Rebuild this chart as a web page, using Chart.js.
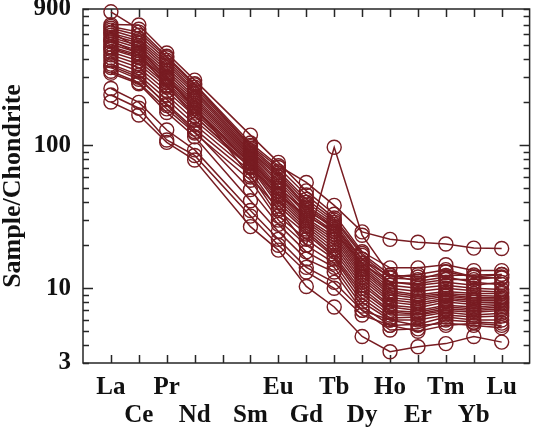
<!DOCTYPE html>
<html lang="en">
<head>
    <meta charset="UTF-8">
    <title>REE Chondrite-normalized Pattern</title>
    <script src="https://cdn.jsdelivr.net/npm/chart.js"></script>
    <style>
        html, body { margin: 0; padding: 0; background: #fff; }
        #wrap { width: 538px; height: 428px; }
    </style>
</head>
<body>
    <div id="wrap"><canvas id="reeChart" width="538" height="428"></canvas></div>
    <script>
        // element order on x axis (Pm has no data)
        const elements = ['La', 'Ce', 'Pr', 'Nd', 'Pm', 'Sm', 'Eu', 'Gd', 'Tb', 'Dy', 'Ho', 'Er', 'Tm', 'Yb', 'Lu'];
        // 0 = upper label row, 1 = lower label row, -1 = no label
        const labelRow = [0, 1, 0, 1, -1, 1, 0, 1, 0, 1, 0, 1, 0, 1, 0];

        const yTicks = [3, 4, 5, 6, 7, 8, 9, 10, 20, 30, 40, 50, 60, 70, 80, 90,
            100, 200, 300, 400, 500, 600, 700, 800, 900];
        const yLabelled = [3, 10, 100, 900];

        // sample/chondrite values: La Ce Pr Nd Pm Sm Eu Gd Tb Dy Ho Er Tm Yb Lu
        const samples = [
            [860, 650, 420, 270, null, 104, 72, 55, 38, 24.8, 22, 21, 20.4, 19.1, 19],
            [480, 420, 290, 190, null, 60, 36, 20, 97, 23.5, 12.4, 11.2, 12, 11, 10.6],
            [700, 695, 443, 286, null, 118, 76, 48, 33, 18, 13.9, 13.9, 14.6, 13.3, 13.3],
            [680, 620, 410, 265, null, 100, 70, 45, 31, 17.5, 12.4, 12, 12.3, 12.4, 12.5],
            [660, 590, 395, 255, null, 98, 66, 42, 30, 17, 11.8, 11.5, 13, 12, 11.8],
            [640, 560, 380, 245, null, 95, 64, 40, 29, 16, 11.1, 10.5, 11, 10.5, 11],
            [610, 540, 365, 238, null, 92, 62, 38, 28, 15, 10.5, 10, 10.5, 10, 9.8],
            [590, 520, 350, 230, null, 90, 60, 37, 27, 14.5, 10, 9.5, 10, 9.6, 9.4],
            [570, 500, 335, 220, null, 88, 57, 36, 26, 14, 9.6, 9, 9.5, 9.2, 9.2],
            [550, 480, 320, 212, null, 86, 55, 34, 25, 13.5, 9.3, 8.8, 9.2, 8.9, 8.8],
            [530, 460, 305, 205, null, 84, 52, 33, 24, 13, 9, 8.5, 9, 8.6, 8.6],
            [510, 445, 295, 198, null, 82, 50, 31, 23, 12.5, 8.6, 8.2, 8.8, 8.4, 8.4],
            [490, 430, 285, 190, null, 80, 48, 30, 22, 12, 8.3, 7.9, 8.5, 8.2, 8.2],
            [470, 410, 275, 182, null, 78, 46, 29, 21, 11.5, 8, 7.6, 8.3, 8, 8],
            [450, 390, 265, 175, null, 76, 44, 28, 20, 11, 7.6, 7.3, 8, 7.7, 7.8],
            [430, 370, 255, 168, null, 74, 42, 27, 19, 10.5, 7.4, 7, 7.6, 7.4, 7.6],
            [410, 350, 240, 160, null, 72, 40, 26, 18, 10, 7, 6.8, 7.4, 7.2, 7.4],
            [390, 330, 225, 150, null, 70, 38, 25, 17, 9.5, 6.8, 6.6, 7.2, 7, 7.2],
            [370, 310, 210, 140, null, 66, 35, 24, 16.5, 9, 6.5, 6.5, 7, 6.8, 7],
            [350, 290, 195, 130, null, 62, 32, 22, 16, 8.5, 6.2, 6.3, 6.8, 6.5, 6.7],
            [330, 275, 180, 122, null, 57, 30, 20, 15, 8, 6, 6, 6.5, 6.3, 6.4],
            [360, 300, 190, 125, null, 49, 28, 18, 14, 7.5, 5.5, 5.6, 6.3, 6, 6],
            [320, 270, 170, 115, null, 41, 25, 16, 13, 7, 5.1, 5.2, 6, 5.8, 5.7],
            [250, 200, 128, 93, null, 35, 22, 14, 11, 7, 6, 5.5, 5.7, 5.5, 5.3],
            [225, 182, 109, 85, null, 32, 20, 13, 10, 6.5, 5.5, 5, 5.5, 5.7, 5.5],
            [201, 163, 105, 79, null, 27, 18.5, 10.3, 7.4, 4.6, 3.6, 3.9, 4.1, 4.6, 4.2],
            [620, 480, 300, 180, null, 75, 50, 35, 27, 16, 12, 12.5, 13.5, 12, 12.5],
            [540, 440, 260, 160, null, 70, 45, 32, 25, 15, 11, 10.8, 11.5, 11.5, 12]
        ];

        const lineColor = '#781c22';
        const axisColor = '#262626';
        const fontFamily = "'Liberation Serif', 'Times New Roman', serif";

        // inward tick marks and plot frame
        const frameTicks = {
            id: 'frameTicks',
            beforeDatasetsDraw(chart) {
                const { ctx, chartArea: a, scales } = chart;
                const x = scales.x, y = scales.y;
                ctx.save();
                ctx.strokeStyle = axisColor;
                ctx.lineWidth = 1.5;
                ctx.strokeRect(a.left, a.top, a.right - a.left, a.bottom - a.top);
                ctx.beginPath();
                elements.forEach((el, i) => {
                    const px = Math.round(x.getPixelForValue(i)) + 0.5;
                    ctx.moveTo(px, a.bottom); ctx.lineTo(px, a.bottom - 8);
                    ctx.moveTo(px, a.top); ctx.lineTo(px, a.top + 8);
                });
                yTicks.forEach(v => {
                    const py = Math.round(y.getPixelForValue(v)) + 0.5;
                    const len = (v === 10 || v === 100) ? 10 : 6;
                    ctx.moveTo(a.left, py); ctx.lineTo(a.left + len, py);
                    ctx.moveTo(a.right, py); ctx.lineTo(a.right - len, py);
                });
                ctx.stroke();
                ctx.restore();
            }
        };

        function renderChart() {
            const ctx = document.getElementById('reeChart').getContext('2d');
            const datasets = samples.map(row => ({
                data: row.map((v, i) => ({ x: i, y: v })),
                borderColor: lineColor,
                borderWidth: 1.5,
                pointStyle: 'circle',
                pointRadius: 7,
                pointBorderWidth: 1.4,
                pointBorderColor: lineColor,
                pointBackgroundColor: 'rgba(0,0,0,0)',
                spanGaps: true,
                tension: 0,
                clip: false
            }));

            new Chart(ctx, {
                type: 'line',
                data: { datasets: datasets },
                plugins: [frameTicks],
                options: {
                    responsive: false,
                    animation: false,
                    layout: { padding: { top: 9, right: 1, left: 0, bottom: 0 } },
                    plugins: { legend: { display: false }, tooltip: { enabled: false } },
                    scales: {
                        x: {
                            type: 'linear',
                            min: -1,
                            max: 15,
                            grid: { display: false, drawTicks: false },
                            border: { display: false },
                            afterBuildTicks: scale => {
                                scale.ticks = elements.map((e, i) => ({ value: i }));
                            },
                            afterFit: scale => {
                                scale.height = 65;
                                scale.paddingLeft = 0;
                                scale.paddingRight = 0;
                            },
                            ticks: {
                                autoSkip: false,
                                maxRotation: 0,
                                padding: 11,
                                color: '#111',
                                font: { family: fontFamily, size: 25, weight: 'bold', lineHeight: 1.12 },
                                callback: v => {
                                    const row = labelRow[v];
                                    if (row === 0) return [elements[v], ''];
                                    if (row === 1) return ['', elements[v]];
                                    return '';
                                }
                            }
                        },
                        y: {
                            type: 'logarithmic',
                            min: 3,
                            max: 900,
                            grid: { display: false, drawTicks: false },
                            border: { display: false },
                            afterBuildTicks: scale => {
                                scale.ticks = yTicks.map(v => ({ value: v }));
                            },
                            afterFit: scale => {
                                scale.width = 83;
                                scale.paddingTop = 0;
                                scale.paddingBottom = 0;
                            },
                            title: {
                                display: true,
                                text: 'Sample/Chondrite',
                                color: '#111',
                                padding: { top: 0, bottom: 0 },
                                font: { family: fontFamily, size: 26, weight: 'bold', lineHeight: 1 }
                            },
                            ticks: {
                                autoSkip: false,
                                padding: 12,
                                color: '#111',
                                font: { family: fontFamily, size: 25, weight: 'bold' },
                                callback: v => yLabelled.includes(v) ? String(v) : ''
                            }
                        }
                    }
                }
            });
        }

        window.onload = renderChart;
    </script>
</body>
</html>
